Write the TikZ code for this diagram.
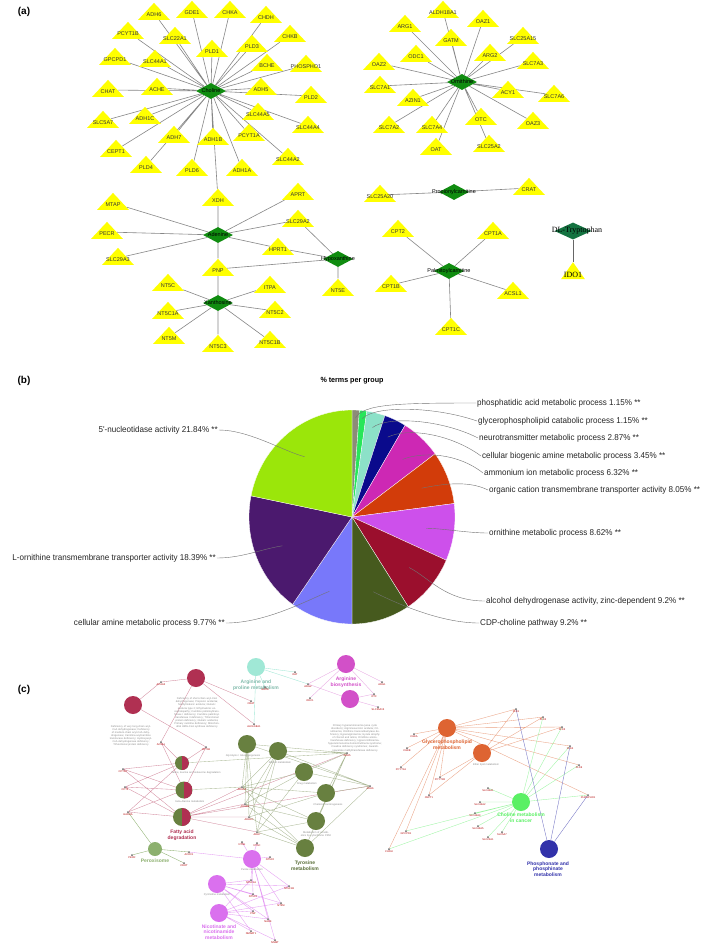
\documentclass[tikz,border=0pt]{standalone}
\usepackage{fontspec}
\setmainfont{Liberation Sans}
\newfontfamily\serifnet{Liberation Serif}
\newfontfamily\narrowsf{Liberation Sans}[FakeStretch=0.95]
\usetikzlibrary{shapes.geometric}
\pgfdeclarelayer{background}
\pgfsetlayers{background,main}
\definecolor{netyellow} {RGB}{255,255,0}
\definecolor{netgreen}  {RGB}{16,140,16}
\definecolor{trpgreen}  {RGB}{20,115,65}
\definecolor{edgegray}  {RGB}{135,135,135}
\definecolor{sgray}     {RGB}{140,140,120}
\definecolor{sgreen}    {RGB}{40,230,90}
\definecolor{saqua}     {RGB}{140,225,200}
\definecolor{snavy}     {RGB}{10,10,140}
\definecolor{smagenta}  {RGB}{205,40,180}
\definecolor{sorange}   {RGB}{210,60,10}
\definecolor{slilac}    {RGB}{205,80,235}
\definecolor{scrimson}  {RGB}{155,15,45}
\definecolor{solive}    {RGB}{70,90,30}
\definecolor{speri}     {RGB}{120,120,250}
\definecolor{spurple}   {RGB}{75,25,110}
\definecolor{slime}     {RGB}{155,230,10}
\definecolor{crim}      {RGB}{176,48,82}
\definecolor{olivec}    {RGB}{104,128,64}
\definecolor{peroxc}    {RGB}{140,176,110}
\definecolor{orchidc}   {RGB}{218,112,238}
\definecolor{aquac}     {RGB}{160,232,214}
\definecolor{magc}      {RGB}{210,80,200}
\definecolor{orangec}   {RGB}{222,100,50}
\definecolor{greenc}    {RGB}{90,240,100}
\definecolor{bluec}     {RGB}{50,50,170}

\begin{document}
\begin{tikzpicture}[x=1pt,y=-1pt,
  every node/.style={font=\fontsize{5.5}{6}\selectfont},
  gene/.style={isosceles triangle,isosceles triangle stretches,shape border rotate=90,
               fill=netyellow,minimum width=32pt,minimum height=17pt,inner sep=0pt,
               label={[tlab]center:#1}},
  tlab/.style={yshift=-2pt,font=\fontsize{5.5}{6}\selectfont,text=black!80},
  metab/.style={diamond,aspect=2,fill=netgreen,minimum width=30pt,minimum height=16pt,
                inner sep=0pt,label={[mlab]center:#1}},
  mlab/.style={font=\fontsize{5.5}{6}\selectfont,text=black},
  edge/.style={draw=edgegray,line width=0.6pt},
  panel/.style={font=\bfseries\fontsize{10}{12}\selectfont},
  plab/.style={font=\narrowsf\fontsize{8.5}{9}\selectfont,inner sep=1pt,text=black!85},
  lead/.style={draw=black!55,line width=0.4pt},
  slice/.style={fill=#1,draw=white,line width=0.3pt},
  pw/.style={circle,minimum size=18pt,inner sep=0pt,fill=#1},
  split/.style={circle,minimum size=#1,inner sep=0pt,fill=olivec,
                path picture={\fill[crim] (path picture bounding box.north)
                              rectangle (path picture bounding box.south east);}},
  clab/.style={font=\bfseries\fontsize{5}{5.6}\selectfont,align=center,text=#1},
  gdot/.style={circle,fill=black!60,minimum size=2pt,inner sep=0pt,
               label={[dlab]below:#1}},
  dlab/.style={font=\fontsize{2.6}{3}\selectfont,text=red!70!black,label distance=0pt,inner sep=0.3pt},
  desc/.style={font=\fontsize{2.6}{3.1}\selectfont,text=black!45,align=center,text width=#1},
  ec/.style={draw=#1,line width=0.35pt},
]
\begin{pgfonlayer}{background}
\fill[white] (0,0) rectangle (709,946);
\end{pgfonlayer}
\useasboundingbox (0,0) rectangle (709,946);

%% ── (a) gene-metabolite networks ──────────────────────────────────────────
\node[panel] (pa) at (24,12) {(a)};

%% Choline hub
\node[metab=Choline] (ch) at (211,91) {};
\node[gene=ADH6]     (adh6)     at (154,13) {};
\node[gene=GDE1]     (gde1)     at (192,11) {};
\node[gene=CHKA]     (chka)     at (230,11) {};
\node[gene=CHDH]     (chdh)     at (266,16) {};
\node[gene=PCYT1B]   (pcyt1b)   at (128,32) {};
\node[gene=SLC22A1]  (slc22a1)  at (175,37) {};
\node[gene=PLD1]     (pld1)     at (212,50) {};
\node[gene=PLD3]     (pld3)     at (252,45) {};
\node[gene=CHKB]     (chkb)     at (290,35) {};
\node[gene=GPCPD1]   (gpcpd1)   at (115,58) {};
\node[gene=SLC44A1]  (slc44a1)  at (155,60) {};
\node[gene=BCHE]     (bche)     at (267,64) {};
\node[gene=PHOSPHO1] (phospho1) at (306,65) {};
\node[gene=CHAT]     (chat)     at (108,90) {};
\node[gene=ACHE]     (ache)     at (157,88) {};
\node[gene=ADH5]     (adh5)     at (261,88) {};
\node[gene=PLD2]     (pld2)     at (311,96) {};
\node[gene=SLC5A7]   (slc5a7)   at (103,121) {};
\node[gene=ADH1C]    (adh1c)    at (145,117) {};
\node[gene=SLC44A5]  (slc44a5)  at (258,113) {};
\node[gene=SLC44A4]  (slc44a4)  at (308,126) {};
\node[gene=CEPT1]    (cept1)    at (116,150) {};
\node[gene=ADH7]     (adh7)     at (174,136) {};
\node[gene=ADH1B]    (adh1b)    at (213,138) {};
\node[gene=PCYT1A]   (pcyt1a)   at (249,134) {};
\node[gene=SLC44A2]  (slc44a2)  at (288,158) {};
\node[gene=PLD4]     (pld4)     at (146,166) {};
\node[gene=PLD6]     (pld6)     at (192,169) {};
\node[gene=ADH1A]    (adh1a)    at (242,169) {};

%% Adenine / Hypoxanthine / Xanthosine
\node[metab=Adenine]      (aden)  at (218,235) {};
\node[metab=Hypoxanthine] (hypox) at (338,259) {};
\node[metab=Xanthosine]   (xanth) at (218,303) {};
\node[gene=XDH]     (xdh)     at (218,199) {};
\node[gene=APRT]    (aprt)    at (298,193) {};
\node[gene=MTAP]    (mtap)    at (113,203) {};
\node[gene=SLC29A2] (slc29a2) at (298,220) {};
\node[gene=PECR]    (pecr)    at (107,232) {};
\node[gene=HPRT1]   (hprt1)   at (278,248) {};
\node[gene=SLC29A3] (slc29a3) at (118,258) {};
\node[gene=PNP]     (pnp)     at (218,269) {};
\node[gene=NT5E]    (nt5e)    at (338,289) {};
\node[gene=NT5C]    (nt5c)    at (168,284) {};
\node[gene=ITPA]    (itpa)    at (270,286) {};
\node[gene=NT5C1A]  (nt5c1a)  at (168,312) {};
\node[gene=NT5C2]   (nt5c2)   at (275,311) {};
\node[gene=NT5M]    (nt5m)    at (169,337) {};
\node[gene=NT5C3]   (nt5c3)   at (218,345) {};
\node[gene=NT5C1B]  (nt5c1b)  at (270,341) {};

%% Ornithine hub
\node[metab=Ornithine] (orn) at (462,82) {};
\node[gene=ALDH18A1] (aldh18a1) at (443,11) {};
\node[gene=OAZ1]     (oaz1)     at (483,20) {};
\node[gene=ARG1]     (arg1)     at (405,25) {};
\node[gene=GATM]     (gatm)     at (451,39) {};
\node[gene=SLC25A15] (slc25a15) at (523,37) {};
\node[gene=ODC1]     (odc1)     at (416,55) {};
\node[gene=ARG2]     (arg2)     at (490,54) {};
\node[gene=SLC7A3]   (slc7a3)   at (533,62) {};
\node[gene=OAZ2]     (oaz2)     at (379,63) {};
\node[gene=SLC7A1]   (slc7a1)   at (380,86) {};
\node[gene=ACY1]     (acy1)     at (508,91) {};
\node[gene=SLC7A6]   (slc7a6)   at (554,95) {};
\node[gene=AZIN1]    (azin1)    at (413,99) {};
\node[gene=OTC]      (otc)      at (481,118) {};
\node[gene=OAZ3]     (oaz3)     at (533,122) {};
\node[gene=SLC7A2]   (slc7a2)   at (389,126) {};
\node[gene=SLC7A4]   (slc7a4)   at (432,126) {};
\node[gene=OAT]      (oat)      at (436,148) {};
\node[gene=SLC25A2]  (slc25a2)  at (489,145) {};

%% carnitines
\node[metab=Propionylcarnitine] (propc) at (454,192) {};
\node[metab=Palmitoylcarnitine] (palmc) at (449,271) {};
\node[gene=SLC25A20] (slc25a20) at (380,195) {};
\node[gene=CRAT]     (crat)     at (529,188) {};
\node[gene=CPT2]     (cpt2)     at (398,230) {};
\node[gene=CPT1A]    (cpt1a)    at (493,232) {};
\node[gene=CPT1B]    (cpt1b)    at (391,285) {};
\node[gene=ACSL1]    (acsl1)    at (513,292) {};
\node[gene=CPT1C]    (cpt1c)    at (451,328) {};

%% DL-Tryptophan
\node[diamond,aspect=2,fill=trpgreen,minimum width=37pt,minimum height=17pt,inner sep=0pt,
      label={[font=\serifnet\fontsize{8}{9}\selectfont,xshift=4pt]center:DL-Tryptophan}]
  (dltrp) at (573,231) {};
\node[isosceles triangle,isosceles triangle stretches,shape border rotate=90,fill=netyellow,
      minimum width=24pt,minimum height=17pt,inner sep=0pt,
      label={[font=\serifnet\fontsize{8}{9}\selectfont,yshift=-2pt]center:IDO1}]
  (ido1) at (573,273) {};

\begin{pgfonlayer}{background}
\draw[edge] (ch) -- (adh6) (ch) -- (gde1) (ch) -- (chka) (ch) -- (chdh) (ch) -- (pcyt1b)
  (ch) -- (slc22a1) (ch) -- (pld1) (ch) -- (pld3) (ch) -- (chkb) (ch) -- (gpcpd1)
  (ch) -- (slc44a1) (ch) -- (bche) (ch) -- (phospho1) (ch) -- (chat) (ch) -- (ache)
  (ch) -- (adh5) (ch) -- (pld2) (ch) -- (slc5a7) (ch) -- (adh1c) (ch) -- (slc44a5)
  (ch) -- (slc44a4) (ch) -- (cept1) (ch) -- (adh7) (ch) -- (adh1b) (ch) -- (pcyt1a)
  (ch) -- (slc44a2) (ch) -- (pld4) (ch) -- (pld6) (ch) -- (adh1a) (ch) -- (xdh);
\draw[edge] (aden) -- (xdh) (aden) -- (aprt) (aden) -- (mtap) (aden) -- (slc29a2)
  (aden) -- (pecr) (aden) -- (slc29a3) (aden) -- (pnp) (aden) -- (hprt1)
  (hprt1) -- (hypox) (hypox) -- (slc29a2) (hypox) -- (pnp) (hypox) -- (nt5e)
  (pnp) -- (xanth) (xanth) -- (nt5c) (xanth) -- (itpa) (xanth) -- (nt5c1a)
  (xanth) -- (nt5c2) (xanth) -- (nt5m) (xanth) -- (nt5c3) (xanth) -- (nt5c1b);
\draw[edge] (orn) -- (aldh18a1) (orn) -- (oaz1) (orn) -- (arg1) (orn) -- (gatm)
  (orn) -- (slc25a15) (orn) -- (odc1) (orn) -- (arg2) (orn) -- (slc7a3) (orn) -- (oaz2)
  (orn) -- (slc7a1) (orn) -- (acy1) (orn) -- (slc7a6) (orn) -- (azin1) (orn) -- (otc)
  (orn) -- (oaz3) (orn) -- (slc7a2) (orn) -- (slc7a4) (orn) -- (oat) (orn) -- (slc25a2);
\draw[edge] (propc) -- (slc25a20) (propc) -- (crat)
  (palmc) -- (cpt2) (palmc) -- (cpt1a) (palmc) -- (cpt1b) (palmc) -- (acsl1) (palmc) -- (cpt1c);
\draw[edge,draw=black!60,line width=0.8pt] (dltrp) -- (ido1);
\end{pgfonlayer}

%% ── (b) pie chart ─────────────────────────────────────────────────────────
\node[panel] (pb) at (24,381) {(b)};
\node[font=\narrowsf\bfseries\fontsize{7.5}{8}\selectfont] (ptitle) at (352,381) {\% terms per group};

\coordinate (pc) at (352,517);
\fill[slice=sgray]    (pc) -- ++(-90:103 and 107)    arc[start angle=-90,end angle=-85.86,x radius=103,y radius=107] -- cycle;
\fill[slice=sgreen]   (pc) -- ++(-85.86:103 and 107) arc[start angle=-85.86,end angle=-81.72,x radius=103,y radius=107] -- cycle;
\fill[slice=saqua]    (pc) -- ++(-81.72:103 and 107) arc[start angle=-81.72,end angle=-71.39,x radius=103,y radius=107] -- cycle;
\fill[slice=snavy]    (pc) -- ++(-71.39:103 and 107) arc[start angle=-71.39,end angle=-58.97,x radius=103,y radius=107] -- cycle;
\fill[slice=smagenta] (pc) -- ++(-58.97:103 and 107) arc[start angle=-58.97,end angle=-36.22,x radius=103,y radius=107] -- cycle;
\fill[slice=sorange]  (pc) -- ++(-36.22:103 and 107) arc[start angle=-36.22,end angle=-7.24,x radius=103,y radius=107] -- cycle;
\fill[slice=slilac]   (pc) -- ++(-7.24:103 and 107)  arc[start angle=-7.24,end angle=23.80,x radius=103,y radius=107] -- cycle;
\fill[slice=scrimson] (pc) -- ++(23.80:103 and 107)  arc[start angle=23.80,end angle=56.92,x radius=103,y radius=107] -- cycle;
\fill[slice=solive]   (pc) -- ++(56.92:103 and 107)  arc[start angle=56.92,end angle=90.04,x radius=103,y radius=107] -- cycle;
\fill[slice=speri]    (pc) -- ++(90.04:103 and 107)  arc[start angle=90.04,end angle=125.21,x radius=103,y radius=107] -- cycle;
\fill[slice=spurple]  (pc) -- ++(125.21:103 and 107) arc[start angle=125.21,end angle=191.41,x radius=103,y radius=107] -- cycle;
\fill[slice=slime]    (pc) -- ++(191.41:103 and 107) arc[start angle=191.41,end angle=270,x radius=103,y radius=107] -- cycle;

%% points inside the slices
\path (pc) ++(-87.93:95 and 99) coordinate (p1);
\path (pc) ++(-83.79:95 and 99) coordinate (p2);
\path (pc) ++(-76.55:88 and 92) coordinate (p3);
\path (pc) ++(-65.16:85 and 88) coordinate (p4);
\path (pc) ++(-47.6:75 and 78)  coordinate (p5);
\path (pc) ++(-21.7:75 and 78)  coordinate (p6);
\path (pc) ++(8.3:75 and 78)    coordinate (p7);
\path (pc) ++(40.4:75 and 78)   coordinate (p8);
\path (pc) ++(73.5:75 and 78)   coordinate (p9);
\path (pc) ++(107.6:75 and 78)  coordinate (p10);
\path (pc) ++(158.3:75 and 78)  coordinate (p11);
\path (pc) ++(230.7:75 and 78)  coordinate (p12);

\node[plab,anchor=west] (l1) at (476,403) {phosphatidic acid metabolic process 1.15\% **};
\node[plab,anchor=west] (l2) at (477,421) {glycerophospholipid catabolic process 1.15\% **};
\node[plab,anchor=west] (l3) at (478,438) {neurotransmitter metabolic process 2.87\% **};
\node[plab,anchor=west] (l4) at (481,456) {cellular biogenic amine metabolic process 3.45\% **};
\node[plab,anchor=west] (l5) at (483,473) {ammonium ion metabolic process 6.32\% **};
\node[plab,anchor=west] (l6) at (488,490) {organic cation transmembrane transporter activity 8.05\% **};
\node[plab,anchor=west] (l7) at (488,533) {ornithine metabolic process 8.62\% **};
\node[plab,anchor=west] (l8) at (485,601) {alcohol dehydrogenase activity, zinc-dependent 9.2\% **};
\node[plab,anchor=west] (l9) at (479,623) {CDP-choline pathway 9.2\% **};
\node[plab,anchor=east] (l10) at (226,623) {cellular amine metabolic process 9.77\% **};
\node[plab,anchor=east] (l11) at (217,558) {L-ornithine transmembrane transporter activity 18.39\% **};
\node[plab,anchor=east] (l12) at (219,430) {5'-nucleotidase activity 21.84\% **};

\draw[lead] (l1.west) .. controls +(-80,0) and +(8,-14) .. (p1);
\draw[lead] (l2.west) .. controls +(-40,-14) and +(14,-14) .. (p2);
\draw[lead] (l3.west) .. controls +(-35,-18) and +(16,-12) .. (p3);
\draw[lead] (l4.west) .. controls +(-30,-22) and +(20,-10) .. (p4);
\draw[lead] (l5.west) .. controls +(-25,-20) and +(20,-8) .. (p5);
\draw[lead] (l6.west) .. controls +(-20,-10) and +(20,-4) .. (p6);
\draw[lead] (l7.west) .. controls +(-20,0) and +(15,0) .. (p7);
\draw[lead] (l8.west) .. controls +(-40,0) and +(20,10) .. (p8);
\draw[lead] (l9.west) .. controls +(-40,0) and +(20,10) .. (p9);
\draw[lead] (l10.east) .. controls +(40,0) and +(-20,8) .. (p10);
\draw[lead] (l11.east) .. controls +(25,0) and +(-20,3) .. (p11);
\draw[lead] (l12.east) .. controls +(30,0) and +(-20,-5) .. (p12);

%% ── (c) pathway network ───────────────────────────────────────────────────
\node[panel] (pcl) at (24,690) {(c)};

%% pathway circles
\node[pw=crim]    (ca)  at (196,678) {};
\node[pw=crim]    (cb)  at (133,705) {};
\node[pw=aquac]   (aq)  at (256,667) {};
\node[pw=magc]    (mg1) at (346,664) {};
\node[pw=magc]    (mg2) at (350,699) {};
\node[pw=olivec]  (ol1) at (247,744) {};
\node[pw=olivec]  (ol2) at (278,751) {};
\node[pw=olivec]  (ol3) at (304,772) {};
\node[pw=olivec]  (ol4) at (326,793) {};
\node[pw=olivec]  (ol5) at (316,821) {};
\node[pw=olivec]  (ol6) at (305,848) {};
\node[split=14pt] (sp1) at (182,763) {};
\node[split=17pt] (sp2) at (184,790) {};
\node[split=18pt] (fa)  at (182,817) {};
\node[pw=peroxc,minimum size=14pt] (px) at (155,849) {};
\node[pw=orchidc] (or1) at (252,859) {};
\node[pw=orchidc] (or2) at (217,884) {};
\node[pw=orchidc] (or3) at (219,913) {};
\node[pw=orangec] (gp)  at (447,728) {};
\node[pw=orangec] (go2) at (482,753) {};
\node[pw=greenc]  (cm)  at (521,802) {};
\node[pw=bluec]   (ph)  at (549,849) {};

%% pathway names
\node[clab=aquac!80!black]  (aqlab) at (256,685) {Arginine and\\proline metabolism};
\node[clab=magc]            (mglab) at (346,682) {Arginine\\biosynthesis};
\node[clab=crim]            (falab) at (182,835) {Fatty acid\\degradation};
\node[clab=olivec!85!black] (tylab) at (305,866) {Tyrosine\\metabolism};
\node[clab=peroxc]          (pxlab) at (155,861) {Peroxisome};
\node[clab=orchidc]         (orlab) at (219,932) {Nicotinate and\\nicotinamide\\metabolism};
\node[clab=orangec]         (gplab) at (447,745) {Glycerophospholipid\\metabolism};
\node[clab=greenc]          (cmlab) at (521,818) {Choline metabolism\\in cancer};
\node[clab=bluec]           (phlab) at (548,869) {Phosphonate and\\phosphinate\\metabolism};

%% grey term descriptions
\node[desc=46pt] (cadesc) at (197,713) {Deficiency of short-chain acyl-CoA dehydrogenase;
  Propionic acidemia; Methylmalonic aciduria; Glutaric aciduria type 2; Ethylmalonic
  encephalopathy; Carnitine palmitoyltransferase I deficiency; Carnitine
  palmitoyltransferase II deficiency; Trifunctional protein deficiency; Glutaric
  acidemia; Primary carnitine deficiency; Mitochondrial HMG-CoA synthase deficiency};
\node[desc=44pt] (cbdesc) at (131,736) {Deficiency of very long-chain acyl-CoA
  dehydrogenase; Deficiency of medium-chain acyl-CoA dehydrogenase;
  Carnitine-acylcarnitine translocase deficiency; Hydroxyacyl-CoA dehydrogenase
  deficiency; Trifunctional protein deficiency};
\node[desc=56pt] (mgdesc) at (355,738) {Primary hyperammonemia (urea cycle disorders);
  Argininosuccinic aciduria; Citrullinemia; Ornithine transcarbamylase deficiency;
  Hyperargininemia; Gyrate atrophy of choroid and retina; Ornithine aminotransferase
  deficiency; Hyperornithinemia-hyperammonemia-homocitrullinuria syndrome; Creatine
  deficiency syndromes; Guanidinoacetate methyltransferase deficiency};
\node[desc=50pt] (ol1d) at (243,756) {Glycolysis / Gluconeogenesis};
\node[desc=40pt] (ol2d) at (280,763) {Retinol metabolism};
\node[desc=40pt] (ol3d) at (307,784) {Drug metabolism};
\node[desc=50pt] (ol4d) at (328,805) {Chemical carcinogenesis};
\node[desc=40pt] (ol5d) at (316,834) {Metabolism of xenobiotics by cytochrome P450};
\node[desc=60pt] (sp1d) at (196,773) {Valine, leucine and isoleucine degradation};
\node[desc=50pt] (sp2d) at (190,802) {beta-Alanine metabolism};
\node[desc=40pt] (or1d) at (252,870) {Purine metabolism};
\node[desc=40pt] (or2d) at (217,895) {Pyrimidine metabolism};
\node[desc=50pt] (go2d) at (486,765) {Ether lipid metabolism};

%% gene dots
\node[gdot=ACAA2]    (d1)  at (161,682) {};
\node[gdot=CRAT]     (d2)  at (251,701) {};
\node[gdot=ALDH18A1] (d3)  at (254,724) {};
\node[gdot=OAT]      (d4)  at (295,672) {};
\node[gdot=GATM]     (d5)  at (265,687) {};
\node[gdot=ARG2]     (d6)  at (308,684) {};
\node[gdot=ODC1]     (d7)  at (310,698) {};
\node[gdot=ARG1]     (d8)  at (382,682) {};
\node[gdot=OTC]      (d9)  at (374,694) {};
\node[gdot=SLC25A15] (d10) at (378,707) {};
\node[gdot=ACSL1]    (d11) at (161,742) {};
\node[gdot=CPT1B]    (d12) at (206,747) {};
\node[gdot=CPT1C]    (d13) at (123,769) {};
\node[gdot=CPT2]     (d14) at (125,787) {};
\node[gdot=HADHA]    (d15) at (128,812) {};
\node[gdot=ADH1A]    (d16) at (242,787) {};
\node[gdot=ADH1B]    (d17) at (245,804) {};
\node[gdot=ADH1C]    (d18) at (249,817) {};
\node[gdot=ADH7]     (d19) at (257,832) {};
\node[gdot=ADH5]     (d20) at (347,753) {};
\node[gdot=ADH6]     (d21) at (370,786) {};
\node[gdot=PECR]     (d22) at (132,855) {};
\node[gdot=ACOX1]    (d23) at (189,852) {};
\node[gdot=CROT]     (d24) at (184,863) {};
\node[gdot=NT5E]     (d25) at (242,842) {};
\node[gdot=NT5C]     (d26) at (257,843) {};
\node[gdot=NT5C2]    (d27) at (270,857) {};
\node[gdot=NT5C1A]   (d28) at (251,880) {};
\node[gdot=NT5C1B]   (d29) at (289,886) {};
\node[gdot=NT5C3]    (d30) at (253,894) {};
\node[gdot=NT5M]     (d31) at (281,903) {};
\node[gdot=PNP]      (d32) at (253,911) {};
\node[gdot=NADK]     (d33) at (268,919) {};
\node[gdot=NMNAT1]   (d34) at (251,931) {};
\node[gdot=NNMT]     (d35) at (275,940) {};
\node[gdot=PLD1]     (e1)  at (516,709) {};
\node[gdot=PLD2]     (e2)  at (543,717) {};
\node[gdot=PLD3]     (e3)  at (562,727) {};
\node[gdot=PLD4]     (e4)  at (570,746) {};
\node[gdot=PLD6]     (e5)  at (579,765) {};
\node[gdot=PHOSPHO1] (e6)  at (588,795) {};
\node[gdot=CHKA]     (e7)  at (414,734) {};
\node[gdot=CHKB]     (e8)  at (407,748) {};
\node[gdot=PCYT1A]   (e9)  at (401,767) {};
\node[gdot=PCYT1B]   (e10) at (440,777) {};
\node[gdot=CEPT1]    (e11) at (429,795) {};
\node[gdot=SLC44A1]  (e12) at (488,788) {};
\node[gdot=SLC44A2]  (e13) at (480,802) {};
\node[gdot=SLC44A4]  (e14) at (475,813) {};
\node[gdot=SLC44A5]  (e15) at (478,826) {};
\node[gdot=SLC22A1]  (e16) at (488,837) {};
\node[gdot=SLC5A7]   (e17) at (502,832) {};
\node[gdot=GPCPD1]   (e18) at (406,831) {};
\node[gdot=CHDH]     (e19) at (389,849) {};

\begin{pgfonlayer}{background}
\draw[ec=crim!55] (ca) -- (d1) (ca) -- (d2) (ca) -- (d3) (ca) -- (d11)
  (cb) -- (d1) (cb) -- (d12)
  (sp1) -- (d11) (sp1) -- (d12) (sp1) -- (d13) (sp1) -- (d14) (sp1) -- (d15)
  (sp2) -- (d11) (sp2) -- (d12) (sp2) -- (d13) (sp2) -- (d14) (sp2) -- (d15)
  (fa) -- (d13) (fa) -- (d14) (fa) -- (d15) (fa) -- (d16) (fa) -- (d17)
  (fa) -- (d18) (fa) -- (d19) (fa) -- (d20) (fa) -- (d21);
\draw[ec=olivec!55] (ol1) -- (d16) (ol1) -- (d17) (ol1) -- (d18) (ol1) -- (d19)
  (ol1) -- (d20) (ol1) -- (d21) (ol2) -- (d16) (ol2) -- (d17) (ol2) -- (d18)
  (ol2) -- (d19) (ol2) -- (d20) (ol2) -- (d21) (ol3) -- (d16) (ol3) -- (d17)
  (ol3) -- (d19) (ol3) -- (d20) (ol3) -- (d21) (ol4) -- (d16) (ol4) -- (d18)
  (ol4) -- (d20) (ol4) -- (d21) (ol5) -- (d16) (ol5) -- (d17) (ol5) -- (d19)
  (ol5) -- (d20) (ol6) -- (d16) (ol6) -- (d17) (ol6) -- (d18) (ol6) -- (d19)
  (ol6) -- (d20) (ol6) -- (d21) (sp1) -- (d20) (sp2) -- (d16);
\draw[ec=aquac] (aq) -- (d3) (aq) -- (d4) (aq) -- (d5) (aq) -- (d6);
\draw[ec=magc!50] (mg1) -- (d6) (mg1) -- (d7) (mg1) -- (d8) (mg1) -- (d9)
  (mg2) -- (d9) (mg2) -- (d10) (mg2) -- (d6);
\draw[ec=peroxc] (px) -- (d22) (px) -- (d23) (px) -- (d24) (px) -- (d15);
\draw[ec=orchidc!70] (or1) -- (d23) (or1) -- (d25) (or1) -- (d26) (or1) -- (d27)
  (or1) -- (d28) (or1) -- (d29) (or1) -- (d30) (or1) -- (d31) (or1) -- (d33)
  (or1) -- (d35) (or2) -- (d28) (or2) -- (d29) (or2) -- (d30) (or2) -- (d31)
  (or2) -- (d32) (or2) -- (d33) (or2) -- (d34) (or3) -- (d28) (or3) -- (d29)
  (or3) -- (d31) (or3) -- (d32) (or3) -- (d33) (or3) -- (d34) (or3) -- (d35);
\draw[ec=orangec!60] (gp) -- (e1) (gp) -- (e2) (gp) -- (e3) (gp) -- (e4) (gp) -- (e5)
  (gp) -- (e6) (gp) -- (e7) (gp) -- (e8) (gp) -- (e9) (gp) -- (e10) (gp) -- (e11)
  (gp) -- (e18) (gp) -- (e19) (go2) -- (e1) (go2) -- (e2) (go2) -- (e3)
  (go2) -- (e10) (go2) -- (e11);
\draw[ec=greenc!60] (cm) -- (e12) (cm) -- (e13) (cm) -- (e14) (cm) -- (e15)
  (cm) -- (e16) (cm) -- (e17) (cm) -- (e18) (cm) -- (e19) (cm) -- (e2)
  (cm) -- (e3) (cm) -- (e4) (cm) -- (e5) (cm) -- (e6);
\draw[ec=bluec!70] (ph) -- (e1) (ph) -- (e4) (ph) -- (e6);
\end{pgfonlayer}

\end{tikzpicture}
\end{document}
